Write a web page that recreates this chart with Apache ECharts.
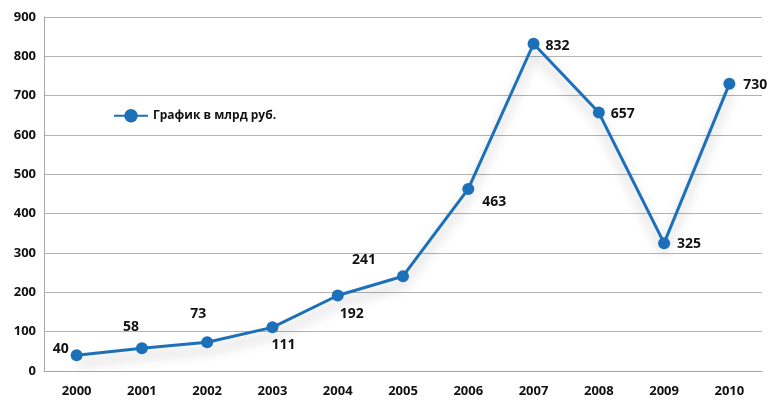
<!DOCTYPE html>
<html><head><meta charset="utf-8">
<script src="https://cdn.jsdelivr.net/npm/echarts@6/dist/echarts.min.js"></script>
<style>html,body{margin:0;padding:0;background:#fff}#c{width:770px;height:400px}</style>
</head><body><div id="c"></div>
<script>
const categories = ['2000','2001','2002','2003','2004','2005','2006','2007','2008','2009','2010'];
const values = [40, 58, 73, 111, 192, 241, 463, 832, 657, 325, 730];
const seriesName = 'График в млрд руб.';

// label placement per point (presentation only)
const labelCfg = [
  {position:'left', distance:2, offset:[0,-6]},
  {position:'top', distance:8, offset:[-11,0]},
  {position:'top', distance:15, offset:[-9,0]},
  {position:'bottom', distance:5, offset:[11,0]},
  {position:'bottom', distance:6, offset:[14,0]},
  {position:'top', distance:6, offset:[-39,3]},
  {position:'right', distance:8, offset:[0,13]},
  {position:'right', distance:6, offset:[0,2]},
  {position:'right', distance:6, offset:[0,1]},
  {position:'right', distance:7, offset:[0,1]},
  {position:'right', distance:8, offset:[0,1]}
];
const color = '#1c6fb9';
const font = '"Open Sans", "DejaVu Sans", sans-serif';
const chart = echarts.init(document.getElementById('c'));
chart.setOption({
  animation:false,
  grid:{left:44, right:8, top:17, bottom:29},
  legend:{
    data:[seriesName], left:108, top:104, itemWidth:34, itemHeight:17, itemGap:4,
    textStyle:{fontFamily:font, fontWeight:'bold', fontSize:12, color:'#111'}
  },
  xAxis:{
    type:'category', data:categories, boundaryGap:true,
    axisLine:{lineStyle:{color:'#a6a6a6', width:1}},
    axisTick:{show:false},
    axisLabel:{fontFamily:font, fontWeight:'bold', fontSize:13, color:'#111', margin:14}
  },
  yAxis:{
    type:'value', min:0, max:900, interval:100,
    axisLine:{show:true, lineStyle:{color:'#a6a6a6', width:1}},
    axisTick:{show:false},
    splitLine:{lineStyle:{color:'#b3b3b3', width:1}},
    axisLabel:{fontFamily:font, fontWeight:'bold', fontSize:13, color:'#111', margin:8}
  },
  series:[{
    name:seriesName, type:'line',
    data: values.map((v,i)=>({value:v, label:labelCfg[i]})),
    symbol:'circle', symbolSize:12,
    itemStyle:{color:color},
    lineStyle:{color:color, width:3, shadowColor:'rgba(0,0,0,0.28)', shadowBlur:12, shadowOffsetY:8},
    label:{show:true, fontFamily:font, fontWeight:'bold', fontSize:14, color:'#111'}
  }]
});
</script></body></html>
